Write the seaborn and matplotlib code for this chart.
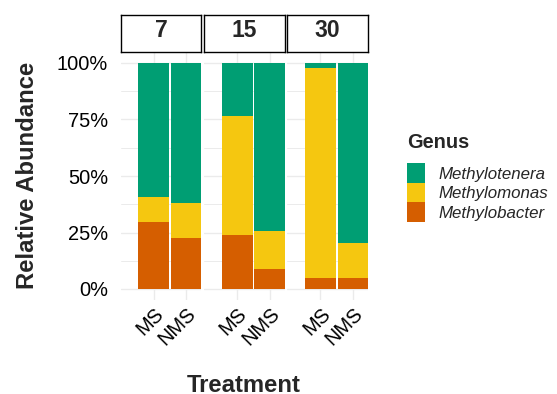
import numpy as np
import pandas as pd
import matplotlib
matplotlib.use('Agg')
import matplotlib.pyplot as plt
from matplotlib.patches import Rectangle
import seaborn as sns

# Data (relative abundance in %)
days = ['7', '15', '30']
treatments = ['MS', 'NMS']
genera = ['Methylotenera', 'Methylomonas', 'Methylobacter']
colors = ['#009E73', '#F5C710', '#D55E00']

# order: 7 MS, 7 NMS, 15 MS, 15 NMS, 30 MS, 30 NMS
methylobacter = [29.8, 22.4, 23.9, 8.7, 4.7, 5.0]
methylomonas = [11.0, 15.8, 52.8, 17.1, 93.3, 15.2]
methylotenera = [59.2, 61.8, 23.3, 74.2, 2.0, 79.8]

ytick_vals = [0, 25, 50, 75, 100]
ytick_labels = ['0%', '25%', '50%', '75%', '100%']

# Build a long table with stacked tops
rows = []
i = 0
for d in days:
    for t in treatments:
        b = methylobacter[i]
        m = methylomonas[i]
        n = methylotenera[i]
        rows.append((d, t, 'Methylobacter', b, b))
        rows.append((d, t, 'Methylomonas', m, b + m))
        rows.append((d, t, 'Methylotenera', n, b + m + n))
        i += 1
df = pd.DataFrame(rows, columns=['Day', 'Treatment', 'Genus', 'Abundance', 'top'])

sns.set_style('white')
plt.rcParams['font.family'] = ['Liberation Sans', 'DejaVu Sans']

W, H = 557, 394
fig = plt.figure(figsize=(W / 100, H / 100), dpi=100)


def fx(px):
    return px / W


def fy(py):
    return 1 - py / H


panel_left = [120.7, 204.0, 287.3]
panel_w = 80.6
panel_top, panel_bot = 51.7, 300.3
strip_top = 15.0
grid_col = '#EBEBEB'

for k, d in enumerate(days):
    ax = fig.add_axes([fx(panel_left[k]), fy(panel_bot), panel_w / W, (panel_bot - panel_top) / H])
    sub = df[df['Day'] == d]
    for g, c in zip(genera, colors):
        sns.barplot(data=sub[sub['Genus'] == g], x='Treatment', y='top', order=treatments,
                    color=c, saturation=1, width=0.95, errorbar=None, linewidth=0, ax=ax)
    ax.set_xlim(-1.02, 1.46)
    ax.set_ylim(-5, 105)
    ax.set_xlabel('')
    ax.set_ylabel('')
    ax.set_yticks(ytick_vals)
    ax.set_yticklabels(ytick_labels)
    ax.set_yticks([12.5, 37.5, 62.5, 87.5], minor=True)
    ax.set_xticks(range(len(treatments)))
    ax.set_xticklabels(treatments, rotation=45, ha='right', va='top', rotation_mode='anchor')
    ax.set_axisbelow(True)
    ax.grid(which='major', color=grid_col, lw=1.0)
    ax.grid(which='minor', axis='y', color=grid_col, lw=0.7)
    for s in ax.spines.values():
        s.set_visible(False)
    ax.tick_params(which='both', length=0)
    ax.tick_params(axis='y', labelsize=14.4, pad=9, labelcolor='black')
    ax.tick_params(axis='x', labelsize=14.4, pad=3, labelcolor='black')
    if k > 0:
        ax.tick_params(axis='y', labelleft=False)

    # facet strip
    sax = fig.add_axes([fx(panel_left[k]), fy(panel_top), panel_w / W, (panel_top - strip_top) / H])
    sax.set_xticks([])
    sax.set_yticks([])
    sax.set_facecolor('white')
    for s in sax.spines.values():
        s.set_visible(True)
        s.set_color('black')
        s.set_linewidth(1.0)
    fig.text(fx(panel_left[k] + panel_w / 2), fy(36.7), d, ha='center', va='baseline',
             fontsize=16.5, fontweight='bold')

# axis titles
fig.text(fx(34.3), fy(175), 'Relative Abundance', rotation=90, rotation_mode='anchor',
         ha='center', va='baseline', fontsize=17.2, fontweight='bold')
fig.text(fx(244), fy(391.7), 'Treatment', ha='center', va='baseline',
         fontsize=17.2, fontweight='bold')

# legend
fig.text(fx(406.7), fy(148.3), 'Genus', ha='left', va='baseline', fontsize=14.4, fontweight='bold')
key_w, key_h = 18.3, 19.4
key_top = 163.3
for j, (g, c) in enumerate(zip(genera, colors)):
    y0 = key_top + j * key_h
    fig.add_artist(Rectangle((fx(406.7), fy(y0 + key_h)), key_w / W, key_h / H,
                             transform=fig.transFigure, facecolor=c, edgecolor='none'))
    fig.text(fx(438.5), fy(y0 + key_h / 2), g, ha='left', va='center_baseline',
             fontsize=12.2, fontstyle='italic')

fig.savefig('out.png', dpi=100)
